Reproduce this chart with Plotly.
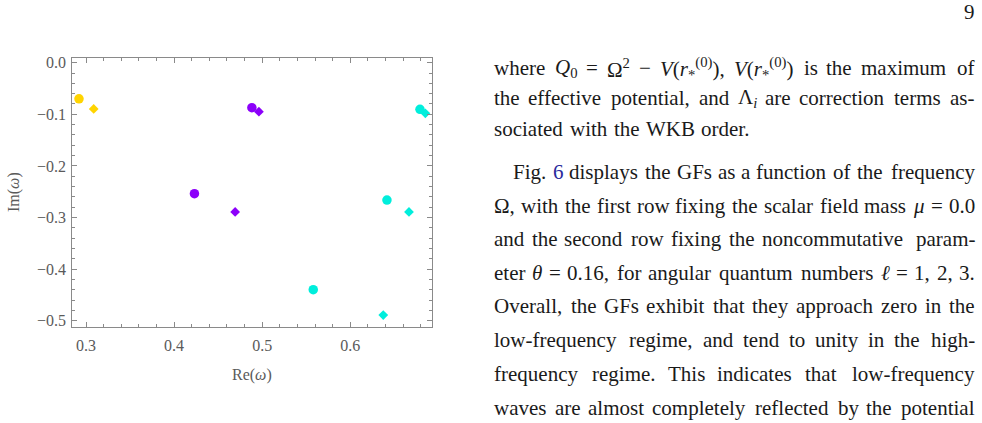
import re
import plotly.graph_objects as go

# ---------------- data ----------------
gold_circle_re = [0.292]
gold_circle_im = [-0.070]
gold_diamond_re = [0.3087]
gold_diamond_im = [-0.0897]

purple_circle_re = [0.4883, 0.4231]
purple_circle_im = [-0.0872, -0.2539]
purple_diamond_re = [0.4963, 0.4693]
purple_diamond_im = [-0.0950, -0.2893]

cyan_circle_re = [0.6792, 0.6417, 0.558]
cyan_circle_im = [-0.0903, -0.2661, -0.4399]
cyan_diamond_re = [0.6853, 0.6667, 0.6375]
cyan_diamond_im = [-0.0981, -0.2893, -0.4890]

x_ticks = [0.3, 0.4, 0.5, 0.6]
x_tick_labels = ["0.3", "0.4", "0.5", "0.6"]
y_ticks = [0.0, -0.1, -0.2, -0.3, -0.4, -0.5]
y_tick_labels = ["0.0", "\u22120.1", "\u22120.2", "\u22120.3", "\u22120.4", "\u22120.5"]

GOLD = "#FFD400"
PURPLE = "#8C00FA"
CYAN = "#00EEDC"

# body text of the page (one entry per printed line)
text_lines = [
    "where <i>Q</i><sub>0</sub> = \u03a9<sup>2</sup> \u2212 <i>V</i>(<i>r</i><sub>*</sub><sup>(0)</sup>), <i>V</i>(<i>r</i><sub>*</sub><sup>(0)</sup>) is the maximum of",
    "the effective potential, and \u039b<sub><i>i</i></sub> are correction terms as-",
    "sociated with the WKB order.",
    "Fig. <span style='color:#2a2a9c'>6</span> displays the GFs as a function of the frequency",
    "\u03a9, with the first row fixing the scalar field mass <i>\u03bc</i> = 0.0",
    "and the second row fixing the noncommutative param-",
    "eter <i>\u03b8</i> = 0.16, for angular quantum numbers <i>\u2113</i> = 1, 2, 3.",
    "Overall, the GFs exhibit that they approach zero in the",
    "low-frequency regime, and tend to unity in the high-",
    "frequency regime. This indicates that low-frequency",
    "waves are almost completely reflected by the potential",
]
line_y_px = [68, 98.5, 129, 172, 205.5, 239, 272.5, 306, 340, 374, 408]
indented = [False, False, False, True, False, False, False, False, False, False, False]
justified = [True, True, False, True, True, True, True, True, True, True, True]

# ---------------- approximate glyph widths (Times metrics, 1/1000 em) ----------------
_W = {' ': 250, '!': 333, '(': 333, ')': 333, '*': 500, ',': 250, '-': 333, '.': 250, '=': 564,
      '\u2212': 564, '\u03a9': 768, '\u039b': 722, '\u03bc': 576, '\u03b8': 500, '\u2113': 417}
for c in '0123456789':
    _W[c] = 500
_W.update(dict(zip('ABCDEFGHIJKLMNOPQRSTUVWXYZ',
                   [722, 667, 667, 722, 611, 556, 722, 722, 333, 389, 722, 611, 889, 722, 722, 556, 722, 667,
                    556, 611, 722, 722, 944, 722, 722, 611])))
_W.update(dict(zip('abcdefghijklmnopqrstuvwxyz',
                   [444, 500, 444, 500, 444, 333, 500, 500, 278, 278, 500, 278, 778, 500, 500, 500, 500, 333,
                    389, 278, 500, 500, 722, 500, 500, 444])))
_ITAL = {'Q': 722, 'V': 611, 'r': 389, 'i': 278}


def text_width(markup, size):
    w = 0.0
    scale = 1.0
    italic = False
    for tok in re.split(r'(<[^>]+>)', markup):
        if tok.startswith('<'):
            t = tok.lower()
            if t in ('<sub>', '<sup>'):
                scale = 0.7
            elif t in ('</sub>', '</sup>'):
                scale = 1.0
            elif t == '<i>':
                italic = True
            elif t == '</i>':
                italic = False
            continue
        for ch in tok:
            cw = _ITAL.get(ch, _W.get(ch, 500)) if italic else _W.get(ch, 500)
            w += cw / 1000.0 * size * scale
    return w * 1.03


# ---------------- figure ----------------
W, H = 982, 423
PL, PR, PT, PB = 72.3, 431.7, 57.7, 326.7

fig = go.Figure()


def add(xs, ys, color, symbol, size):
    fig.add_trace(go.Scatter(
        x=xs, y=ys, mode="markers",
        marker=dict(color=color, symbol=symbol, size=size, line=dict(width=0)),
        showlegend=False, hoverinfo="skip"))


add(gold_circle_re, gold_circle_im, GOLD, "circle", 9.5)
add(gold_diamond_re, gold_diamond_im, GOLD, "diamond", 7.5)
add(purple_circle_re, purple_circle_im, PURPLE, "circle", 9.5)
add(purple_diamond_re, purple_diamond_im, PURPLE, "diamond", 7.5)
add(cyan_circle_re, cyan_circle_im, CYAN, "circle", 9.5)
add(cyan_diamond_re, cyan_diamond_im, CYAN, "diamond", 7.5)

axis_font = dict(family="Liberation Serif", size=16, color="#5a5a5a")
frame_col = "#8a8a8a"

fig.update_xaxes(
    domain=[PL / W, PR / W], range=[0.2844, 0.6925],
    tickvals=x_ticks, ticktext=x_tick_labels,
    ticks="inside", ticklen=5, tickwidth=1, tickcolor=frame_col,
    minor=dict(dtick=0.02, tick0=0.3, ticks="inside", ticklen=3, tickwidth=1, tickcolor=frame_col, showgrid=False),
    showline=True, linecolor=frame_col, linewidth=1, mirror="allticks",
    showgrid=False, zeroline=False, automargin=False,
    tickfont=axis_font, ticklabelstandoff=4,
)
fig.update_yaxes(
    domain=[1 - PB / H, 1 - PT / H], range=[-0.5116, 0.0097],
    tickvals=y_ticks, ticktext=y_tick_labels,
    ticks="inside", ticklen=5, tickwidth=1, tickcolor=frame_col,
    minor=dict(dtick=0.02, tick0=0.0, ticks="inside", ticklen=3, tickwidth=1, tickcolor=frame_col, showgrid=False),
    showline=True, linecolor=frame_col, linewidth=1, mirror="allticks",
    showgrid=False, zeroline=False, automargin=False,
    tickfont=axis_font, ticklabelstandoff=2,
)

ann = []
# axis titles
ann.append(dict(text="Re(<i>\u03c9</i>)", x=(PL + PR) / 2 / W, y=1 - 375 / H, xref="paper", yref="paper",
                showarrow=False, xanchor="center", yanchor="middle", font=axis_font))
ann.append(dict(text="Im(<i>\u03c9</i>)", x=14 / W, y=1 - 192 / H, xref="paper", yref="paper",
                showarrow=False, xanchor="center", yanchor="middle", textangle=-90, font=axis_font))

BODY_SIZE = 21
body_font = dict(family="Liberation Serif", size=BODY_SIZE, color="#1a1a1a")
LEFT, INDENT, RIGHT = 494, 513, 975

for line, ypx, ind, just in zip(text_lines, line_y_px, indented, justified):
    words = re.split(r' (?![^<]*>)', line)   # split on spaces that are not inside a tag
    widths = [text_width(w, BODY_SIZE) for w in words]
    x0 = INDENT if ind else LEFT
    if just and len(words) > 1:
        gap = (RIGHT - x0 - sum(widths)) / (len(words) - 1)
    else:
        gap = 0.25 * BODY_SIZE
    x = x0
    yy = 1 - ypx / H
    for i, (wd, ww) in enumerate(zip(words, widths)):
        last = just and i == len(words) - 1
        ann.append(dict(text=wd, x=(RIGHT if last else x) / W, y=yy, xref="paper", yref="paper",
                        showarrow=False, xanchor="right" if last else "left", yanchor="middle",
                        font=body_font, borderpad=0, borderwidth=0))
        x += ww + gap

# page number
ann.append(dict(text="9", x=RIGHT / W, y=1 - 12 / H, xref="paper", yref="paper",
                showarrow=False, xanchor="right", yanchor="middle", font=body_font,
                borderpad=0, borderwidth=0))

fig.update_layout(
    width=W, height=H, template="none",
    margin=dict(l=0, r=0, t=0, b=0, autoexpand=False),
    paper_bgcolor="white", plot_bgcolor="white",
    annotations=ann,
)

fig.write_html("out.html")
